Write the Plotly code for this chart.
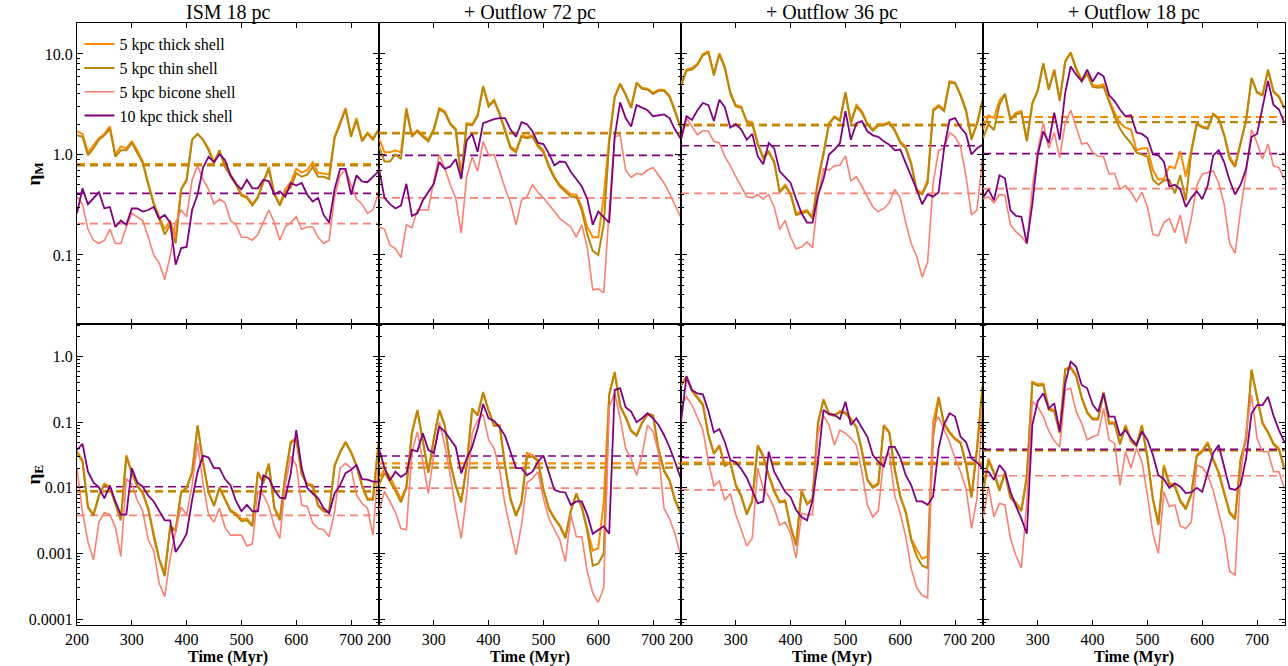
import plotly.graph_objects as go
from plotly.subplots import make_subplots

time_myr = [200, 210, 220, 230, 240, 250, 260, 270, 280, 290, 300, 310, 320, 330, 340, 350, 360, 370, 380, 390,
            400, 410, 420, 430, 440, 450, 460, 470, 480, 490, 500, 510, 520, 530, 540, 550, 560, 570, 580, 590,
            600, 610, 620, 630, 640, 650, 660, 670, 680, 690, 700, 710, 720, 730, 740, 750]

# ---------------- eta_M (mass loading) ----------------
etaM_ism18_thick = [1.7,1.6,1.05,1.25,1.45,1.6,1.9,1.0,1.2,1.15,1.35,1.1,0.85,0.52,0.33,0.24,0.18,0.22,0.15,0.45,0.57,1.4,1.6,1.4,1.15,0.84,1.1,0.77,0.63,0.52,0.4,0.38,0.32,0.38,0.54,0.75,0.41,0.32,0.45,0.53,0.72,0.66,0.7,0.84,0.66,0.65,0.63,1.5,2.05,2.9,1.55,2.3,1.4,1.65,1.45,1.77]
etaM_ism18_thin = [1.55,1.5,0.98,1.15,1.4,1.55,1.8,0.95,1.1,1.1,1.3,1.05,0.82,0.5,0.32,0.23,0.16,0.2,0.13,0.45,0.55,1.4,1.6,1.4,1.1,0.82,1.1,0.75,0.62,0.5,0.39,0.37,0.31,0.37,0.53,0.72,0.4,0.31,0.42,0.47,0.65,0.6,0.63,0.75,0.6,0.6,0.57,1.45,2.0,2.8,1.5,2.2,1.35,1.6,1.4,1.75]
etaM_ism18_bicone = [0.38,0.32,0.18,0.14,0.13,0.14,0.18,0.13,0.13,0.19,0.26,0.24,0.22,0.15,0.10,0.083,0.057,0.097,0.21,0.28,0.24,0.56,0.77,0.56,0.45,0.32,0.36,0.33,0.22,0.2,0.15,0.15,0.14,0.16,0.21,0.28,0.21,0.14,0.19,0.21,0.24,0.18,0.19,0.19,0.15,0.13,0.14,0.38,0.62,0.70,0.5,0.36,0.32,0.26,0.28,0.41]
etaM_ism18_10kpc = [0.26,0.46,0.32,0.37,0.42,0.29,0.3,0.19,0.22,0.2,0.29,0.29,0.27,0.28,0.3,0.23,0.25,0.21,0.08,0.117,0.12,0.28,0.4,0.74,0.95,0.84,1.0,0.88,0.62,0.51,0.45,0.56,0.46,0.46,0.56,0.54,0.4,0.43,0.38,0.52,0.49,0.52,0.4,0.34,0.37,0.25,0.21,0.45,0.72,0.72,0.4,0.62,0.54,0.53,0.6,0.68]
etaM_ism18_means = [0.80, 0.78, 0.205, 0.41]

etaM_out72_thick = [1.45,1.05,1.05,1.1,1.05,2.9,1.55,1.75,1.55,1.4,1.8,2.9,2.7,2.05,1.8,0.6,2.05,2.0,2.5,4.8,3.1,3.5,2.6,1.75,1.2,1.1,1.55,1.5,1.55,1.25,1.1,0.78,0.6,0.5,0.45,0.4,0.4,0.3,0.19,0.15,0.15,0.38,1.45,3.8,5.1,4.0,2.95,5.2,4.6,4.5,4.1,4.4,4.4,3.85,2.75,1.9]
etaM_out72_thin = [1.2,0.85,0.85,1.0,0.9,2.8,1.5,1.7,1.5,1.35,1.75,2.8,2.6,2.0,1.75,0.58,2.0,1.95,2.4,4.7,3.0,3.4,2.5,1.7,1.15,1.05,1.5,1.45,1.5,1.2,1.05,0.75,0.58,0.48,0.43,0.38,0.38,0.28,0.16,0.11,0.1,0.2,1.3,3.7,5.0,3.9,2.9,5.1,4.5,4.4,4.0,4.3,4.3,3.75,2.65,1.85]
etaM_out72_bicone = [0.19,0.18,0.125,0.116,0.094,0.2,0.186,0.28,0.28,0.28,0.55,0.99,0.73,0.5,0.37,0.165,0.6,0.95,0.68,1.35,0.98,1.0,0.68,0.46,0.33,0.2,0.35,0.38,0.5,0.42,0.37,0.32,0.27,0.23,0.21,0.19,0.15,0.2,0.118,0.045,0.046,0.042,0.28,1.5,1.55,0.7,0.59,0.65,0.63,0.7,0.74,0.62,0.52,0.41,0.31,0.24]
etaM_out72_10kpc = [0.72,0.37,0.32,0.29,0.31,0.51,0.245,0.26,0.35,0.42,0.51,0.84,0.72,0.76,0.9,0.57,1.38,1.6,1.06,2.05,2.15,2.25,2.3,2.3,1.77,1.5,2.1,2.0,1.7,1.3,1.27,1.02,0.78,0.85,0.84,0.67,0.57,0.48,0.36,0.2,0.27,0.24,0.21,1.5,3.3,2.3,1.9,3.1,2.9,2.75,2.4,2.45,2.5,2.3,1.77,1.45]
etaM_out72_means = [1.64, 1.62, 0.37, 0.98]

etaM_out36_thick = [4.95,7.0,7.25,8.0,10,10.6,6.4,10.2,7.5,4.2,3.1,3.0,2.15,2.1,1.3,0.95,1.08,0.86,0.43,0.5,0.41,0.26,0.27,0.28,0.24,0.56,1.05,2.05,2.4,2.2,4.2,2.1,3.1,2.7,2.05,1.77,2.0,2.0,2.1,1.77,1.35,1.2,0.82,0.45,0.41,0.56,2.8,3.1,2.8,5.35,5.2,3.95,2.8,1.45,2.05,3.5]
etaM_out36_thin = [4.8,6.8,7.0,7.8,9.7,10.3,6.1,9.9,7.2,4.0,3.0,2.9,2.1,2.0,1.25,0.92,1.05,0.83,0.42,0.48,0.4,0.25,0.26,0.27,0.23,0.54,1.0,2.0,2.35,2.15,4.1,2.05,3.0,2.6,2.0,1.72,1.95,1.95,2.05,1.72,1.3,1.15,0.8,0.43,0.4,0.52,2.7,3.0,2.7,5.2,5.1,3.85,2.7,1.4,2.0,3.4]
etaM_out36_bicone = [1.4,2.3,1.9,1.57,1.73,1.7,1.35,1.3,0.95,0.77,0.6,0.48,0.38,0.37,0.4,0.36,0.4,0.3,0.18,0.22,0.15,0.115,0.12,0.135,0.118,0.38,0.72,0.7,0.77,0.78,0.97,0.55,0.6,0.48,0.38,0.3,0.27,0.29,0.33,0.45,0.37,0.21,0.13,0.097,0.06,0.085,0.52,1.1,1.15,1.65,1.5,1.2,0.6,0.25,0.28,0.9]
etaM_out36_10kpc = [1.4,2.4,2.2,2.75,3.25,3.1,2.15,3.5,2.95,1.85,2.0,1.77,1.4,1.6,0.96,0.8,1.3,1.15,0.68,0.6,0.52,0.36,0.26,0.21,0.21,0.39,0.57,1.0,1.12,1.3,2.7,1.4,2.05,2.15,1.7,1.55,1.5,1.35,1.25,1.1,1.12,0.82,0.62,0.45,0.32,0.4,0.38,0.42,1.15,2.2,2.3,1.85,1.6,1.0,1.15,1.25]
etaM_out36_means = [1.98, 1.95, 0.41, 1.22]

etaM_out18_thick = [1.77,2.45,2.3,3.45,4.0,2.25,2.6,2.7,1.4,3.25,4.4,8.1,4.45,7.0,3.5,8.5,10.4,7.25,5.55,6.5,4.9,4.8,5.0,3.5,2.6,2.05,1.85,1.77,1.1,1.15,1.15,0.7,0.56,0.57,0.76,0.73,1.08,0.6,1.1,2.05,1.9,1.85,2.55,2.3,1.58,0.95,0.78,1.3,2.2,5.8,4.2,3.95,7.0,4.25,3.8,2.9]
etaM_out18_thin = [1.45,2.0,1.75,3.1,4.0,2.2,2.5,2.6,1.35,3.2,4.3,8.0,4.4,6.9,3.4,8.3,10.2,7.0,5.3,6.3,4.7,4.6,4.7,3.3,2.4,1.8,1.5,1.3,1.05,1.0,0.95,0.56,0.5,0.55,0.56,0.41,0.62,0.35,1.05,2.0,1.85,1.8,2.5,2.25,1.55,0.9,0.75,1.3,2.15,5.7,4.1,3.85,6.9,4.2,3.7,2.85]
etaM_out18_bicone = [0.36,0.38,0.33,0.4,0.39,0.2,0.17,0.153,0.13,0.47,1.1,2.06,1.15,1.65,0.93,2.06,2.75,1.9,1.27,1.3,1.05,0.96,0.95,0.64,0.65,0.45,0.49,0.42,0.34,0.42,0.3,0.16,0.155,0.21,0.23,0.166,0.25,0.13,0.23,0.49,0.64,0.66,0.69,0.52,0.32,0.13,0.104,0.28,0.66,1.77,1.3,0.9,1.27,0.77,0.74,0.56]
etaM_out18_10kpc = [0.37,0.45,0.35,0.62,0.58,0.28,0.245,0.24,0.13,0.32,1.0,1.7,1.3,2.6,1.4,4.1,7.5,6.2,5.4,7.0,5.3,6.5,6.0,3.9,3.4,2.8,2.4,2.45,1.65,1.6,1.46,1.0,0.98,0.85,0.48,0.5,0.45,0.3,0.37,0.43,0.36,0.49,0.98,1.1,0.84,0.55,0.4,0.5,0.72,1.5,1.6,2.9,5.4,3.1,2.8,2.05]
etaM_out18_means = [2.36, 2.1, 0.457, 1.02]

# ---------------- eta_E (energy loading) ----------------
etaE_ism18_thick = [0.036,0.0265,0.0052,0.0039,0.0078,0.0116,0.0104,0.0058,0.0034,0.0316,0.0174,0.011,0.0085,0.0049,0.0019,0.00083,0.0005,0.0026,0.0023,0.0087,0.0102,0.0176,0.09,0.025,0.0087,0.0055,0.0102,0.0069,0.0046,0.0041,0.0033,0.0034,0.0027,0.0176,0.0122,0.0236,0.0051,0.0034,0.0155,0.0505,0.057,0.0167,0.0116,0.011,0.0055,0.0046,0.0044,0.0223,0.0356,0.0505,0.0356,0.0223,0.011,0.0069,0.0069,0.048]
etaE_ism18_thin = [0.034,0.025,0.005,0.0038,0.0075,0.0112,0.01,0.0056,0.0032,0.03,0.0168,0.0106,0.0082,0.0047,0.0018,0.0008,0.00045,0.0025,0.0022,0.0085,0.0098,0.017,0.088,0.024,0.0084,0.0053,0.0099,0.0066,0.0044,0.0039,0.0031,0.0032,0.0026,0.017,0.0118,0.0228,0.0049,0.0032,0.015,0.049,0.055,0.016,0.0112,0.0106,0.0053,0.0044,0.0042,0.0215,0.0345,0.049,0.0345,0.0215,0.0106,0.0066,0.0066,0.046]
etaE_ism18_bicone = [0.02,0.0043,0.0015,0.0008,0.003,0.0042,0.0039,0.0025,0.0009,0.0139,0.0114,0.0065,0.0044,0.0016,0.0011,0.00035,0.00022,0.00085,0.0022,0.0051,0.0039,0.0109,0.048,0.0117,0.0039,0.003,0.0049,0.0025,0.0019,0.0019,0.0019,0.0013,0.0014,0.0087,0.0078,0.0052,0.0026,0.0017,0.011,0.03,0.0223,0.0054,0.0052,0.0029,0.0024,0.0023,0.0018,0.0043,0.02,0.0237,0.02,0.0078,0.0058,0.0049,0.0019,0.0223]
etaE_ism18_10kpc = [0.038,0.047,0.0176,0.0121,0.0102,0.0069,0.0108,0.0062,0.0039,0.0039,0.02,0.0121,0.0104,0.0076,0.0062,0.0045,0.0032,0.0032,0.00105,0.0014,0.002,0.0065,0.0176,0.031,0.029,0.02,0.02,0.0136,0.011,0.0063,0.0044,0.0055,0.0044,0.0044,0.0155,0.0139,0.0093,0.0071,0.0069,0.0167,0.076,0.02,0.01,0.0082,0.0069,0.0049,0.0041,0.0082,0.011,0.0167,0.0188,0.0223,0.0136,0.0133,0.0124,0.0124]
etaE_ism18_means = [0.0089, 0.0088, 0.0038, 0.0104]

etaE_out72_thick = [0.0138,0.0194,0.0148,0.01,0.0067,0.0105,0.07,0.154,0.054,0.0176,0.057,0.154,0.091,0.0245,0.011,0.0062,0.0223,0.163,0.13,0.29,0.154,0.091,0.091,0.0223,0.0069,0.0039,0.0062,0.034,0.0316,0.0266,0.0097,0.0049,0.0035,0.0027,0.0018,0.0046,0.0083,0.0052,0.0024,0.0011,0.0012,0.006,0.27,0.59,0.18,0.122,0.076,0.064,0.1,0.135,0.129,0.04,0.0187,0.0133,0.0067,0.0043]
etaE_out72_thin = [0.011,0.017,0.0125,0.009,0.006,0.01,0.068,0.15,0.052,0.017,0.055,0.15,0.088,0.0235,0.0106,0.006,0.0215,0.158,0.126,0.28,0.15,0.088,0.088,0.0215,0.0066,0.0037,0.006,0.029,0.03,0.0255,0.0093,0.0047,0.0034,0.0026,0.0017,0.0044,0.008,0.005,0.0022,0.00065,0.0007,0.001,0.26,0.57,0.175,0.118,0.073,0.062,0.097,0.13,0.125,0.038,0.018,0.0128,0.0064,0.0041]
etaE_out72_bicone = [0.0045,0.0088,0.0062,0.0042,0.0024,0.0023,0.034,0.072,0.025,0.0082,0.032,0.1,0.045,0.0156,0.0046,0.0017,0.0078,0.068,0.108,0.132,0.054,0.04,0.0187,0.0055,0.0023,0.00095,0.0027,0.012,0.0139,0.0176,0.0069,0.0034,0.0023,0.0016,0.00075,0.0039,0.0018,0.0018,0.00053,0.00025,0.00018,0.0003,0.17,0.28,0.115,0.04,0.028,0.0156,0.032,0.091,0.072,0.034,0.0049,0.0034,0.002,0.00095]
etaE_out72_10kpc = [0.04,0.02,0.013,0.0176,0.0147,0.0167,0.038,0.036,0.068,0.038,0.034,0.086,0.072,0.054,0.042,0.0166,0.028,0.042,0.081,0.19,0.115,0.105,0.084,0.062,0.0356,0.02,0.02,0.0155,0.0176,0.025,0.031,0.0176,0.0093,0.0087,0.0085,0.0055,0.0062,0.0062,0.0039,0.002,0.0023,0.0026,0.002,0.31,0.33,0.17,0.145,0.1,0.115,0.137,0.115,0.091,0.064,0.042,0.025,0.0144]
etaE_out72_means = [0.0236, 0.0203, 0.0099, 0.0306]

etaE_out36_thick = [0.37,0.5,0.31,0.245,0.19,0.066,0.034,0.045,0.0223,0.025,0.0113,0.0076,0.0041,0.0065,0.045,0.0316,0.016,0.0092,0.0062,0.0065,0.0026,0.0014,0.0092,0.0058,0.0069,0.1,0.226,0.137,0.13,0.148,0.142,0.115,0.086,0.038,0.0136,0.0105,0.0118,0.091,0.072,0.0195,0.0076,0.0044,0.0017,0.00115,0.00083,0.0009,0.1,0.245,0.096,0.072,0.057,0.05,0.0236,0.0074,0.04,0.35]
etaE_out36_thin = [0.36,0.48,0.3,0.235,0.18,0.063,0.033,0.043,0.0215,0.024,0.0108,0.0073,0.0039,0.0062,0.043,0.03,0.0154,0.0088,0.006,0.0062,0.0025,0.0013,0.0088,0.0056,0.0066,0.095,0.22,0.132,0.125,0.142,0.136,0.11,0.083,0.036,0.013,0.01,0.0113,0.088,0.069,0.0187,0.0073,0.0042,0.0016,0.0009,0.00065,0.0006,0.06,0.235,0.092,0.069,0.055,0.048,0.0226,0.0071,0.038,0.34]
etaE_out36_bicone = [0.183,0.245,0.183,0.115,0.076,0.025,0.0107,0.0127,0.0065,0.0082,0.0039,0.0023,0.0013,0.0017,0.02,0.0098,0.0074,0.0049,0.0027,0.003,0.002,0.00085,0.0041,0.0039,0.0039,0.068,0.126,0.091,0.045,0.076,0.068,0.057,0.045,0.0176,0.0055,0.0036,0.0045,0.028,0.034,0.0076,0.0041,0.0018,0.00059,0.0003,0.00023,0.00021,0.091,0.12,0.076,0.05,0.028,0.0176,0.0098,0.0024,0.0069,0.173]
etaE_out36_10kpc = [0.1,0.5,0.31,0.275,0.266,0.148,0.07,0.079,0.05,0.0266,0.0245,0.0194,0.0143,0.0092,0.0058,0.0062,0.0356,0.0176,0.0124,0.0087,0.0072,0.0046,0.0036,0.0032,0.0065,0.025,0.154,0.133,0.13,0.112,0.206,0.091,0.115,0.081,0.06,0.0316,0.025,0.021,0.042,0.042,0.029,0.0156,0.011,0.0062,0.0062,0.0055,0.0074,0.04,0.093,0.137,0.122,0.06,0.05,0.028,0.0245,0.02]
etaE_out36_means = [0.0242, 0.023, 0.0093, 0.029]

etaE_out18_thick = [0.0087,0.028,0.0176,0.0097,0.0176,0.0074,0.006,0.0046,0.0155,0.415,0.38,0.39,0.163,0.154,0.072,0.65,0.7,0.525,0.245,0.145,0.115,0.115,0.29,0.1,0.1,0.048,0.091,0.054,0.045,0.091,0.03,0.0069,0.0029,0.0223,0.0118,0.011,0.0065,0.005,0.0082,0.0316,0.0375,0.05,0.028,0.0176,0.0087,0.0043,0.0035,0.028,0.057,0.64,0.245,0.1,0.072,0.048,0.04,0.02]
etaE_out18_thin = [0.0082,0.026,0.0165,0.009,0.0165,0.007,0.0057,0.0044,0.0145,0.4,0.36,0.37,0.155,0.146,0.068,0.63,0.67,0.5,0.235,0.138,0.11,0.11,0.28,0.095,0.095,0.046,0.087,0.051,0.043,0.087,0.028,0.0066,0.0027,0.021,0.0112,0.0104,0.0062,0.0047,0.0078,0.03,0.0355,0.047,0.0265,0.0167,0.0082,0.0041,0.0033,0.0265,0.054,0.62,0.235,0.095,0.069,0.046,0.038,0.019]
etaE_out18_bicone = [0.0034,0.0104,0.0036,0.0058,0.0055,0.0017,0.00094,0.0006,0.0062,0.21,0.173,0.122,0.074,0.052,0.042,0.31,0.33,0.145,0.096,0.054,0.06,0.064,0.163,0.054,0.048,0.011,0.0356,0.02,0.04,0.025,0.0078,0.002,0.001,0.0087,0.0052,0.0055,0.0026,0.0024,0.003,0.0223,0.0205,0.0156,0.0092,0.0044,0.0019,0.00053,0.00047,0.0156,0.072,0.26,0.057,0.0356,0.0356,0.0176,0.0176,0.0097]
etaE_out18_10kpc = [0.0176,0.0176,0.0132,0.0223,0.0176,0.0087,0.0053,0.0034,0.002,0.091,0.21,0.276,0.163,0.194,0.072,0.39,0.84,0.7,0.37,0.33,0.187,0.145,0.276,0.122,0.122,0.062,0.076,0.057,0.045,0.072,0.054,0.0316,0.0156,0.0136,0.01,0.0117,0.0104,0.0083,0.0085,0.01,0.0087,0.0176,0.034,0.045,0.021,0.0098,0.0093,0.011,0.028,0.137,0.183,0.183,0.245,0.126,0.076,0.05]
etaE_out18_means = [0.0375, 0.0372, 0.0153, 0.0386]

panel_titles = ["ISM 18 pc", "+ Outflow 72 pc", "+ Outflow 36 pc", "+ Outflow 18 pc"]
series_names = ["5 kpc thick shell", "5 kpc thin shell", "5 kpc bicone shell", "10 kpc thick shell"]
series_colors = ["#FF8C00", "#B8860B", "#FA8072", "#800080"]
series_widths = [2.0, 2.0, 1.6, 1.8]
mean_widths = [2.2, 2.2, 1.6, 1.6]

etaM_ticks = [0.1, 1, 10]
etaM_ticktext = ["0.1", "1.0", "10.0"]
etaE_ticks = [0.0001, 0.001, 0.01, 0.1, 1]
etaE_ticktext = ["0.0001", "0.001", "0.01", "0.1", "1.0"]
time_ticks = [200, 300, 400, 500, 600, 700]

top_row = [
    [etaM_ism18_thick, etaM_ism18_thin, etaM_ism18_bicone, etaM_ism18_10kpc],
    [etaM_out72_thick, etaM_out72_thin, etaM_out72_bicone, etaM_out72_10kpc],
    [etaM_out36_thick, etaM_out36_thin, etaM_out36_bicone, etaM_out36_10kpc],
    [etaM_out18_thick, etaM_out18_thin, etaM_out18_bicone, etaM_out18_10kpc],
]
top_means = [etaM_ism18_means, etaM_out72_means, etaM_out36_means, etaM_out18_means]
bottom_row = [
    [etaE_ism18_thick, etaE_ism18_thin, etaE_ism18_bicone, etaE_ism18_10kpc],
    [etaE_out72_thick, etaE_out72_thin, etaE_out72_bicone, etaE_out72_10kpc],
    [etaE_out36_thick, etaE_out36_thin, etaE_out36_bicone, etaE_out36_10kpc],
    [etaE_out18_thick, etaE_out18_thin, etaE_out18_bicone, etaE_out18_10kpc],
]
bottom_means = [etaE_ism18_means, etaE_out72_means, etaE_out36_means, etaE_out18_means]

FONT = "Liberation Serif"

fig = make_subplots(rows=2, cols=4, horizontal_spacing=0, vertical_spacing=0)

for row, (panels, means) in enumerate([(top_row, top_means), (bottom_row, bottom_means)], start=1):
    for col in range(1, 5):
        series = panels[col - 1]
        mvals = means[col - 1]
        for k in range(4):
            fig.add_trace(go.Scatter(
                x=[time_myr[0], time_myr[-1]], y=[mvals[k], mvals[k]], mode="lines",
                line=dict(color=series_colors[k], width=mean_widths[k], dash="8px,5px"),
                showlegend=False, hoverinfo="skip"), row=row, col=col)
        for k in range(4):
            fig.add_trace(go.Scatter(
                x=time_myr, y=series[k], mode="lines", name=series_names[k],
                line=dict(color=series_colors[k], width=series_widths[k]),
                showlegend=(row == 1 and col == 1)), row=row, col=col)

minor_vals = []
for e in range(-5, 2):
    for m in range(2, 10):
        minor_vals.append(m * 10 ** e)

for row in (1, 2):
    for col in range(1, 5):
        fig.update_xaxes(
            range=[200, 751], tickvals=time_ticks, ticks="inside", ticklen=5, tickwidth=1.2,
            tickcolor="black", showline=True, linecolor="black", linewidth=1.2, mirror="ticks",
            showgrid=False, zeroline=False, showticklabels=(row == 2),
            tickfont=dict(family=FONT, size=16, color="black"),
            row=row, col=col)
        if row == 1:
            rng, tv, tt = [-1.687, 1.308], etaM_ticks, etaM_ticktext
        else:
            rng, tv, tt = [-4.091, 0.498], etaE_ticks, etaE_ticktext
        fig.update_yaxes(
            type="log", range=rng, tickvals=tv, ticktext=tt, ticks="inside", ticklen=6, tickwidth=1.2,
            tickcolor="black", showline=True, linecolor="black", linewidth=1.2, mirror="ticks",
            showgrid=False, zeroline=False, showticklabels=(col == 1),
            tickfont=dict(family=FONT, size=16, color="black"),
            minor=dict(tickvals=minor_vals, ticks="inside", ticklen=3, tickcolor="black", showgrid=False),
            row=row, col=col)

annotations = []
for i, title in enumerate(panel_titles):
    annotations.append(dict(text=title, x=0.125 + 0.25 * i, y=1.0, xref="paper", yref="paper",
                            xanchor="center", yanchor="middle", yshift=11, showarrow=False,
                            font=dict(family=FONT, size=20, color="black")))
    annotations.append(dict(text="<b>Time (Myr)</b>", x=0.125 + 0.25 * i, y=0, xref="paper", yref="paper",
                            xanchor="center", yanchor="middle", yshift=-32, showarrow=False,
                            font=dict(family=FONT, size=16, color="black")))
annotations.append(dict(text="<b>η<sub>M</sub></b>", x=0, y=0.75, xref="paper", yref="paper",
                        xanchor="center", yanchor="middle", xshift=-43, textangle=-90, showarrow=False,
                        font=dict(family=FONT, size=19, color="black")))
annotations.append(dict(text="<b>η<sub>E</sub></b>", x=0, y=0.25, xref="paper", yref="paper",
                        xanchor="center", yanchor="middle", xshift=-43, textangle=-90, showarrow=False,
                        font=dict(family=FONT, size=19, color="black")))

fig.update_layout(
    width=1288, height=666,
    margin=dict(l=77, r=3, t=23, b=41),
    paper_bgcolor="white", plot_bgcolor="white",
    font=dict(family=FONT, size=16, color="black"),
    annotations=annotations,
    legend=dict(x=0.002, y=0.993, xanchor="left", yanchor="top", bgcolor="rgba(0,0,0,0)",
                font=dict(family=FONT, size=16, color="black"), traceorder="normal",
                itemwidth=30),
)

fig.write_html("out.html", config={"displayModeBar": False},
               post_script="document.body.style.margin='0';document.body.style.overflow='hidden';")
